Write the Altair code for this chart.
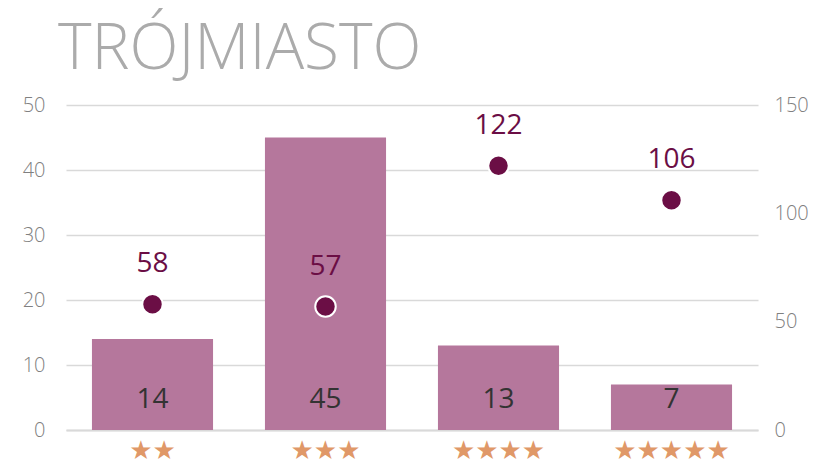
import altair as alt
import pandas as pd

categories = ["★★", "★★★", "★★★★", "★★★★★"]
counts = [14, 45, 13, 7]
values = [58, 57, 122, 106]

df = pd.DataFrame({"cat": categories, "count": counts, "value": values})

FONT = "Open Sans"
x_enc = alt.X("cat:N", sort=categories, title=None,
              scale=alt.Scale(paddingInner=0.3, paddingOuter=0.15),
              axis=alt.Axis(labelAngle=0, labelFont="DejaVu Sans", labelFontSize=26,
                            labelColor="#e09868", labelPadding=7, ticks=False,
                            domain=True, domainColor="#d9d9d9", domainWidth=2))

left_scale = alt.Scale(domain=[0, 50], nice=False)
right_scale = alt.Scale(domain=[0, 150], nice=False)

bars = alt.Chart(df).mark_bar(color="#b5779c").encode(
    x=x_enc,
    y=alt.Y("count:Q", scale=left_scale, title=None,
            axis=alt.Axis(values=[0, 10, 20, 30, 40, 50], grid=True, gridColor="#d9d9d9",
                          gridWidth=1.5, domain=False, ticks=False, labelFont=FONT,
                          labelFontSize=20, labelFontWeight=300, labelColor="#808080",
                          labelPadding=21)),
)
bar_text = alt.Chart(df).mark_text(font=FONT, fontSize=28, color="#333333",
                                   baseline="middle", dy=-30).encode(
    x=alt.X("cat:N", sort=categories),
    y=alt.YDatum(0),
    text="count:Q",
)
left = alt.layer(bars, bar_text)

points = alt.Chart(df).mark_point(filled=True, size=420, color="#6b0e45",
                                  stroke="white", strokeWidth=2, opacity=1).encode(
    x=alt.X("cat:N", sort=categories),
    y=alt.Y("value:Q", scale=right_scale, title=None,
            axis=alt.Axis(orient="right", values=[0, 50, 100, 150], grid=False,
                          domain=False, ticks=False, labelFont=FONT, labelFontSize=20,
                          labelFontWeight=300, labelColor="#808080", labelPadding=16)),
)
point_text = alt.Chart(df).mark_text(font=FONT, fontSize=28, color="#6b0e45",
                                     baseline="middle", dy=-40).encode(
    x=alt.X("cat:N", sort=categories),
    y=alt.Y("value:Q", scale=right_scale),
    text="value:Q",
)
right = alt.layer(points, point_text)

chart = alt.layer(left, right).resolve_scale(y="independent").properties(
    width=692, height=325,
    autosize=alt.AutoSizeParams(type="none"),
    padding={"left": 58, "top": 97, "right": 52, "bottom": 33},
    title=alt.TitleParams("TRÓJMIASTO", anchor="start", frame="group", font=FONT,
                          fontSize=64, fontWeight=300, color="#ababab", dx=-8, offset=13),
).configure_view(stroke=None)

chart.save("out.html", embed_options={"renderer": "svg", "actions": False})
